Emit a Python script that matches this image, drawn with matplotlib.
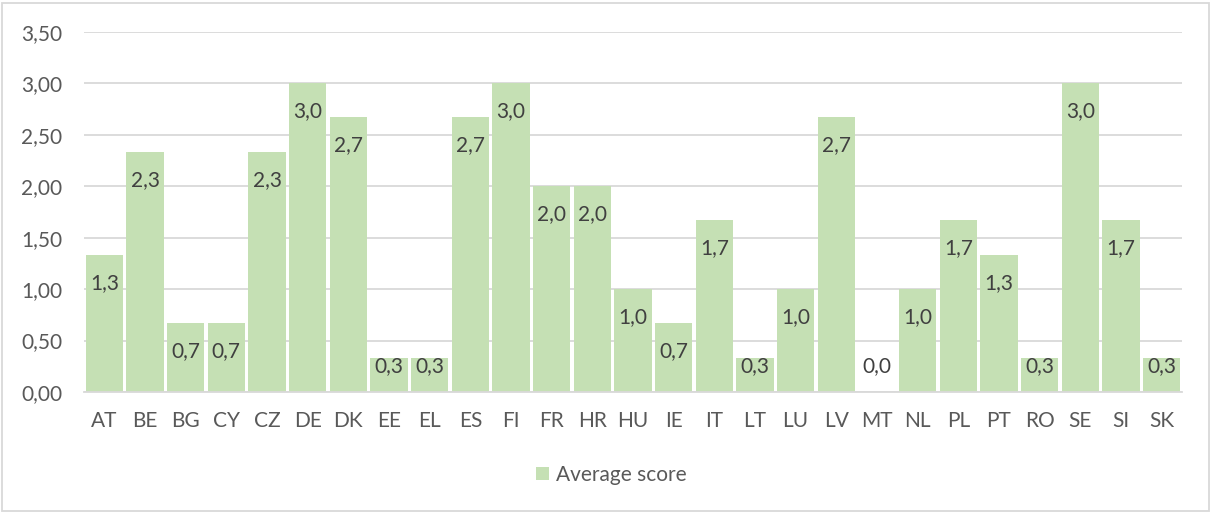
import matplotlib
matplotlib.use("Agg")
import matplotlib.pyplot as plt
from matplotlib.patches import Rectangle
from matplotlib.ticker import FuncFormatter

plt.rcParams['font.family'] = ['Lato', 'DejaVu Sans']

countries = ["AT", "BE", "BG", "CY", "CZ", "DE", "DK", "EE", "EL", "ES", "FI", "FR", "HR", "HU",
             "IE", "IT", "LT", "LU", "LV", "MT", "NL", "PL", "PT", "RO", "SE", "SI", "SK"]
scores = [1.33, 2.33, 0.67, 0.67, 2.33, 3.0, 2.67, 0.33, 0.33, 2.67, 3.0, 2.0, 2.0, 1.0,
          0.67, 1.67, 0.33, 1.0, 2.67, 0.0, 1.0, 1.67, 1.33, 0.33, 3.0, 1.67, 0.33]
series_name = "Average score"

bar_color = "#C5E0B4"
text_color = "#595959"
label_color = "#404040"
grid_color = "#D9D9D9"
fs = 15

fig = plt.figure(figsize=(12.12, 5.13), dpi=100)
ax = fig.add_axes([84/1212, (513-392)/513, (1182-84)/1212, (392-32)/513])

x = list(range(len(countries)))
ax.bar(x, scores, width=0.91, color=bar_color, zorder=2, label=series_name)

ax.set_xlim(-0.5, len(countries) - 0.5)
ax.set_ylim(0, 3.5)
ax.set_yticks([i * 0.5 for i in range(8)])
ax.yaxis.set_major_formatter(FuncFormatter(lambda v, p: f"{v:.2f}".replace(".", ",")))
ax.set_xticks(x)
ax.set_xticklabels(countries)
ax.tick_params(axis='both', length=0, labelsize=fs, colors=text_color)
ax.tick_params(axis='y', pad=15.5)
ax.tick_params(axis='x', pad=14)
ax.grid(axis='y', color=grid_color, linewidth=1.3, zorder=0)
for s in ["top", "right", "left"]:
    ax.spines[s].set_visible(False)
ax.spines["bottom"].set_color(grid_color)
ax.spines["bottom"].set_linewidth(1.3)
ax.spines["bottom"].set_zorder(3)

for xi, v in zip(x, scores):
    ly = max(v - 0.272, 0.253)
    ax.text(xi, ly, f"{v:.1f}".replace(".", ","), ha='center', va='center',
            fontsize=fs, color=label_color, zorder=4)

leg = fig.legend(loc='center', bbox_to_anchor=(611/1212, (513-475)/513), frameon=False,
                 fontsize=fs, handlelength=0.62, handleheight=0.62, handletextpad=0.35)
for t in leg.get_texts():
    t.set_color(text_color)

fig.patches.append(Rectangle((2/1212, 2/513), 1207/1212, 508/513, transform=fig.transFigure,
                             fill=False, edgecolor=grid_color, linewidth=1.3))

fig.savefig("out.png", dpi=100, facecolor="white")
